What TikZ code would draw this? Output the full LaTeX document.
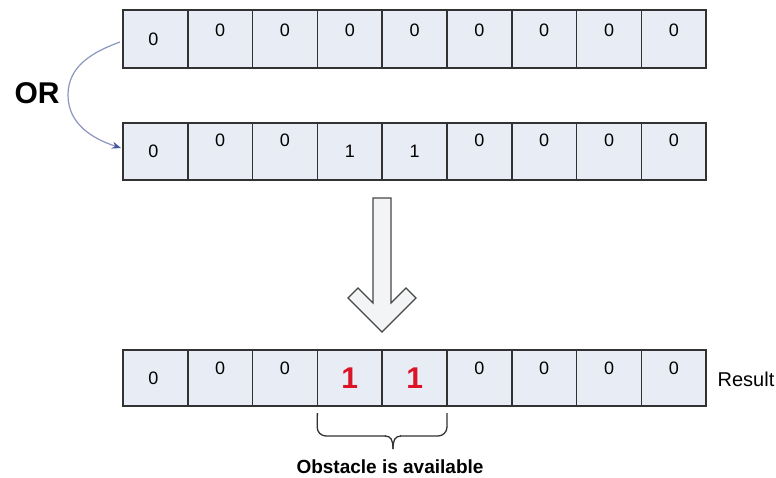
\documentclass[tikz,border=0pt]{standalone}
\usepackage{fontspec}
\setmainfont{Liberation Sans}
\usetikzlibrary{arrows.meta}
\definecolor{cellfill}{RGB}{232,237,245}
\definecolor{cellline}{RGB}{50,50,50}
\definecolor{curvecol}{RGB}{140,150,190}
\definecolor{tipcol}{RGB}{70,85,160}
\definecolor{bigarrowfill}{RGB}{242,244,246}
\definecolor{redone}{RGB}{220,20,40}
\tikzset{
  cell/.style={draw=cellline, line width=1.5pt, fill=cellfill, minimum width=64.8pt, inner sep=0pt, outer sep=0pt},
  dig/.style={font=\fontsize{18}{20}\selectfont, inner sep=0pt},
  bigone/.style={font=\fontsize{30}{32}\selectfont\bfseries, text=redone, inner sep=0pt},
  lbl/.style={font=\fontsize{20}{22}\selectfont, inner sep=0pt},
}
\begin{document}
\begin{tikzpicture}[x=1pt,y=-1pt]
\useasboundingbox (0,0) rectangle (776,477);
\fill[white] (0,0) rectangle (776,477);
% rows
\foreach \i in {1,...,9}{
  \node[cell, minimum height=58pt] (a\i) at ({123+(\i-0.5)*64.8},39) {};
  \node[cell, minimum height=57pt] (b\i) at ({123+(\i-0.5)*64.8},151.5) {};
  \node[cell, minimum height=56pt] (c\i) at ({123+(\i-0.5)*64.8},378) {};
}
% row 1 digits
\node[dig] (ta1) at ([xshift=-2pt]a1.center) {0};
\foreach \i in {2,...,9}{ \node[dig] (ta\i) at ([yshift=9pt]a\i.center) {0}; }
% row 2 digits
\node[dig] (tb1) at ([xshift=-2pt]b1.center) {0};
\foreach \i in {2,3,6,7,8,9}{ \node[dig] (tb\i) at ([yshift=11pt]b\i.center) {0}; }
\node[dig] (tb4) at (b4.center) {1};
\node[dig] (tb5) at (b5.center) {1};
% row 3 digits
\node[dig] (tc1) at ([xshift=-2pt]c1.center) {0};
\foreach \i in {2,3,6,7,8,9}{ \node[dig] (tc\i) at ([yshift=10pt]c\i.center) {0}; }
\node[bigone] (tc4) at (c4.center) {1};
\node[bigone] (tc5) at (c5.center) {1};
% labels
\node[font=\fontsize{30}{32}\selectfont\bfseries, inner sep=0pt] (or) at (37,93) {OR};
\node[lbl] (res) at (746,379) {Result};
\node[font=\fontsize{19}{21}\selectfont\bfseries, inner sep=0pt] (obs) at (390,467) {Obstacle is available};
% curved arrow
\coordinate (cs) at (120,42);
\coordinate (ce) at (121,148);
\draw[curvecol, line width=1.2pt, -{Stealth[length=9pt,width=7pt,color=tipcol]}]
  (cs) to[out=200,in=90] (68,95) to[out=-90,in=162] (ce);
% big hollow arrow
\draw[draw=cellline!90, line width=1.2pt, fill=bigarrowfill, line join=miter]
  (373,198) -- (391,198) -- (391,303) -- (406,288) -- (416,298) -- (382,332)
  -- (348,298) -- (358,288) -- (373,303) -- cycle;
% brace
\draw[cellline, line width=1.3pt, rounded corners=9pt]
  (c4.south west) ++(0,7) -- (317,436) -- (386,436);
\draw[cellline, line width=1.3pt]
  (385,436) .. controls (391,436) and (393,440) .. (393,449);
\draw[cellline, line width=1.3pt, rounded corners=9pt]
  (c5.south east) ++(0,7) -- (447,436) -- (400,436);
\draw[cellline, line width=1.3pt]
  (401,436) .. controls (395,436) and (393,440) .. (393,449);
\end{tikzpicture}
\end{document}
